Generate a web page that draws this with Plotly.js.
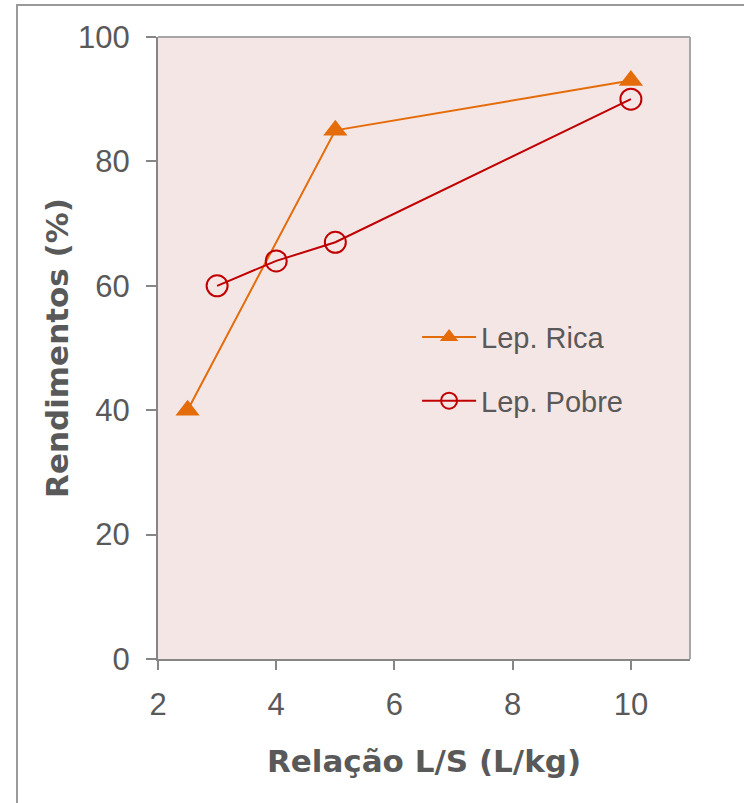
<!DOCTYPE html>
<html>
<head>
<meta charset="utf-8">
<script src="https://cdn.plot.ly/plotly-3.0.1.min.js"></script>
<style>
  html, body { margin: 0; padding: 0; background: #ffffff; }
  #wrap { position: relative; width: 744px; height: 803px; overflow: hidden; }
  #frame { position: absolute; left: 16px; top: 4px; width: 800px; height: 900px;
           border-left: 2px solid #9a9a9a; border-top: 2px solid #9a9a9a; }
  #chart { position: absolute; left: 0; top: 0; width: 744px; height: 803px; }
</style>
</head>
<body>
<div id="wrap">
  <div id="frame"></div>
  <div id="chart"></div>
</div>
<script>
// Data
const ricaX = [2.5, 5, 10];
const ricaY = [40, 85, 93];
const pobreX = [3, 4, 5, 10];
const pobreY = [60, 64, 67, 90];
const seriesNames = ["Lep. Rica", "Lep. Pobre"];
const xTicks = [2, 4, 6, 8, 10];
const yTicks = [0, 20, 40, 60, 80, 100];
const xTitle = "Relação L/S (L/kg)";
const yTitle = "Rendimentos (%)";

const tickFont = { family: "Liberation Sans, Arial, sans-serif", size: 31, color: "#595959" };
const titleFont = { family: "DejaVu Sans, sans-serif", size: 31, color: "#595959", weight: "bold" };

const traces = [
  {
    x: ricaX, y: ricaY, name: seriesNames[0], type: "scatter", mode: "lines+markers",
    line: { color: "#e46c0a", width: 2 },
    marker: { symbol: "triangle-up", size: 21, color: "#e46c0a" },
    legendgroup: "a"
  },
  {
    x: pobreX, y: pobreY, name: seriesNames[1], type: "scatter", mode: "lines+markers",
    line: { color: "#c00000", width: 2 },
    marker: { symbol: "circle-open", size: 21, color: "#c00000", line: { width: 2, color: "#c00000" } },
    legendgroup: "b"
  }
];

const layout = {
  width: 744, height: 803,
  margin: { l: 158, r: 54, t: 37, b: 144, pad: 0 },
  paper_bgcolor: "rgba(0,0,0,0)",
  plot_bgcolor: "#f5e6e6",
  showlegend: true,
  legend: {
    x: 0.487, y: 0.466, xanchor: "left", yanchor: "middle",
    bgcolor: "rgba(0,0,0,0)",
    font: { family: "Liberation Sans, Arial, sans-serif", size: 29, color: "#595959" },
    tracegroupgap: 23,
    itemwidth: 54
  },
  xaxis: {
    range: [2, 11], tickvals: xTicks, ticktext: xTicks.map(String),
    showgrid: false, zeroline: false,
    showline: true, linecolor: "#868686", linewidth: 2,
    ticks: "outside", ticklen: 9, tickwidth: 2, tickcolor: "#868686",
    tickfont: tickFont, ticklabelstandoff: 8,
    title: { text: xTitle, font: titleFont, standoff: 29 }
  },
  yaxis: {
    range: [0, 100], tickvals: yTicks, ticktext: yTicks.map(String),
    showgrid: false, zeroline: false,
    showline: true, linecolor: "#868686", linewidth: 2,
    ticks: "outside", ticklen: 10, tickwidth: 2, tickcolor: "#868686",
    tickfont: tickFont, ticklabelstandoff: 10,
    title: { text: yTitle, font: titleFont, standoff: 0 }
  },
  shapes: [
    { type: "line", xref: "paper", yref: "paper", x0: 0, x1: 1, y0: 1, y1: 1,
      line: { color: "#a6a6a6", width: 2 } },
    { type: "line", xref: "paper", yref: "paper", x0: 1, x1: 1, y0: 0, y1: 1,
      line: { color: "#a6a6a6", width: 2 } }
  ]
};

Plotly.newPlot("chart", traces, layout, { displayModeBar: false, staticPlot: true });
</script>
</body>
</html>
